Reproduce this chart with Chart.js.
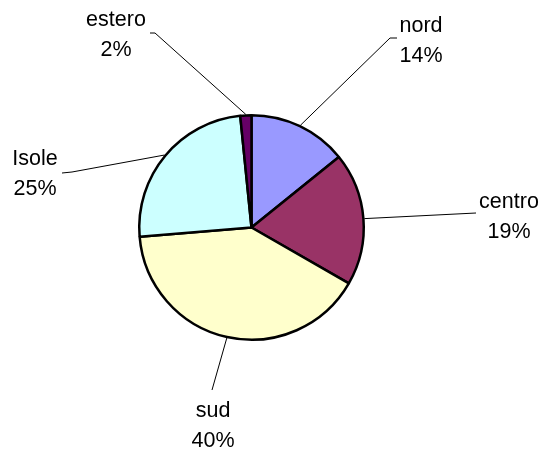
<!DOCTYPE html>
<html>
<head>
<meta charset="utf-8">
<script src="https://cdn.jsdelivr.net/npm/chart.js@4"></script>
<style>
  html, body { margin: 0; padding: 0; background: #fff; }
  #wrap { width: 545px; height: 452px; }
</style>
</head>
<body>
<div id="wrap"><canvas id="torta" width="545" height="452"></canvas></div>
<script>
// dati
var categorie = ['nord', 'centro', 'sud', 'Isole', 'estero'];
var valori = [14.2, 19.1, 40.4, 24.7, 1.6];
var colori = ['#9999FF', '#993366', '#FFFFCC', '#CCFFFF', '#660066'];

// dove stanno le etichette (centro testo, due righe) e il gomito della linea guida
var posEtichette = [
    {x: 421, y: 32, linea: [[390, 38], [397, 38]]},
    {x: 509, y: 208, linea: [[476, 213]]},
    {x: 213, y: 417, linea: [[212, 390]]},
    {x: 35, y: 165, linea: [[72, 172], [62, 173]]},
    {x: 116, y: 26, linea: [[155, 33], [150, 33]]}
];

var totale = valori.reduce(function(a, b){ return a + b; }, 0);

var etichette = {
    id: 'etichette',
    afterDatasetsDraw: function(chart){
        var c = chart.ctx;
        var archi = chart.getDatasetMeta(0).data;
        c.save();
        c.strokeStyle = '#000';
        c.lineWidth = 1;
        archi.forEach(function(arco, i){
            var p = arco.getProps(['x', 'y', 'startAngle', 'endAngle', 'outerRadius'], true);
            var medio = (p.startAngle + p.endAngle) / 2;
            var r = p.outerRadius + 1;
            var pos = posEtichette[i];
            c.beginPath();
            c.moveTo(p.x + Math.cos(medio) * r, p.y + Math.sin(medio) * r);
            pos.linea.forEach(function(pt){ c.lineTo(pt[0], pt[1]); });
            c.stroke();

            c.fillStyle = '#000';
            c.font = '21.5px "Liberation Sans", Arial, sans-serif';
            c.textAlign = 'center';
            c.textBaseline = 'alphabetic';
            c.fillText(categorie[i], pos.x, pos.y);
            c.fillText(Math.round(valori[i] / totale * 100) + '%', pos.x, pos.y + 30);
        });
        c.restore();
    }
};

new Chart(document.getElementById('torta'), {
    type: 'pie',
    data: {
        labels: categorie,
        datasets: [{
            data: valori,
            backgroundColor: colori,
            borderColor: '#000',
            borderWidth: 2.5
        }]
    },
    options: {
        responsive: false,
        animation: false,
        layout: { padding: { left: 138, right: 180, top: 114, bottom: 111 } },
        plugins: {
            legend: { display: false },
            tooltip: { enabled: false }
        }
    },
    plugins: [etichette]
});
</script>
</body>
</html>
